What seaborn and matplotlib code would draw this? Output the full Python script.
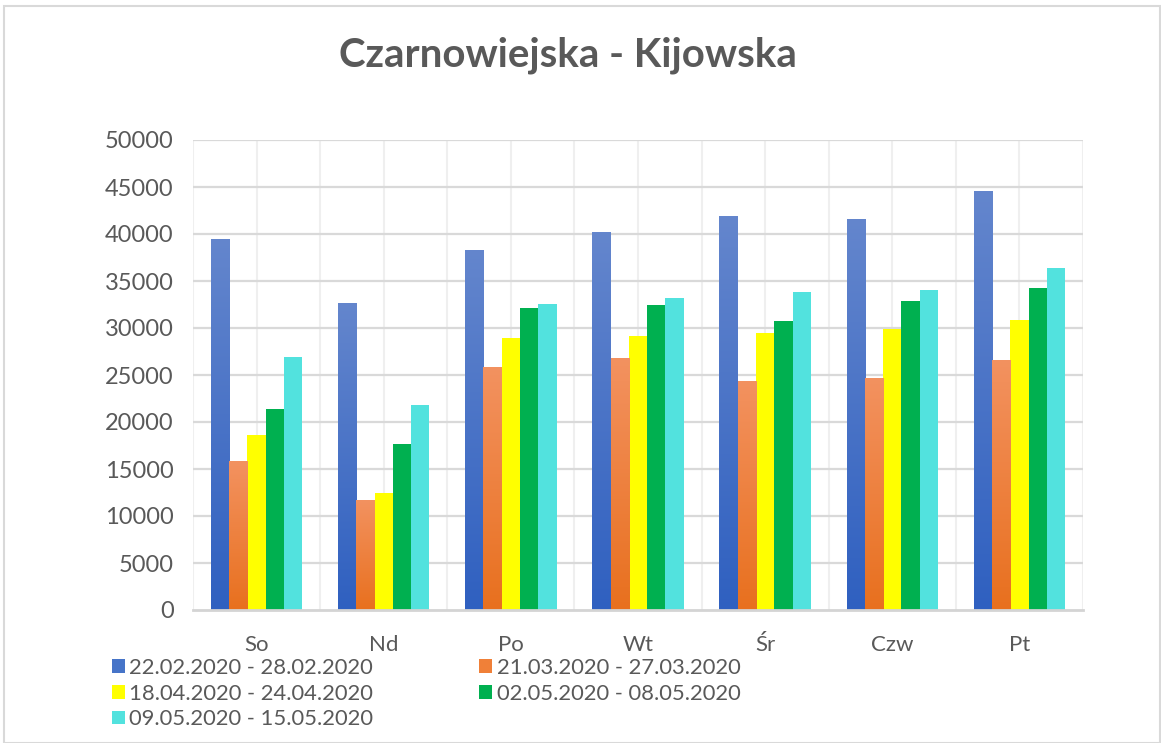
import numpy as np
import pandas as pd
import matplotlib
matplotlib.use("Agg")
import matplotlib.pyplot as plt
import seaborn as sns
from matplotlib.colors import LinearSegmentedColormap
from matplotlib.patches import Patch, Rectangle

days = ["So", "Nd", "Po", "Wt", "Śr", "Czw", "Pt"]
periods = ["22.02.2020 - 28.02.2020", "21.03.2020 - 27.03.2020",
           "18.04.2020 - 24.04.2020", "02.05.2020 - 08.05.2020",
           "09.05.2020 - 15.05.2020"]
p1 = [39500, 32700, 38300, 40200, 41900, 41600, 44600]
p2 = [15800, 11700, 25850, 26800, 24400, 24700, 26600]
p3 = [18600, 12400, 28900, 29100, 29500, 29900, 30900]
p4 = [21400, 17650, 32100, 32500, 30700, 32900, 34300]
p5 = [26900, 21800, 32550, 33200, 33800, 34000, 36400]
yticks = [0, 5000, 10000, 15000, 20000, 25000, 30000, 35000, 40000, 45000, 50000]

colors = ["#4674c8", "#f08038", "#ffff00", "#00b050", "#52e2de"]
grad = {0: ("#6486cd", "#2f60c0"), 1: ("#f39260", "#e8701e")}

series = [p1, p2, p3, p4, p5]
df = pd.DataFrame({
    "day": np.tile(days, len(periods)),
    "period": np.repeat(periods, len(days)),
    "value": np.concatenate(series),
})

sns.set_style("white")
plt.rcParams["font.family"] = ["Lato", "DejaVu Sans"]
txt = "#595959"

fig = plt.figure(figsize=(11.61, 7.43), dpi=100)
ax = fig.add_axes([193 / 1161, 133 / 743, 890 / 1161, 470 / 743])

sns.barplot(data=df, x="day", y="value", hue="period", order=days,
            hue_order=periods, palette=colors, width=0.72, saturation=1,
            ax=ax, legend=False, edgecolor="none", linewidth=0, zorder=3)

ax.set_ylim(0, 50000)
ax.set_xlim(-0.5, len(days) - 0.5)
ax.set_yticks(yticks)
ax.set_yticklabels([str(v) for v in yticks])

# gradients for blue and orange bars
for i, cont in enumerate(ax.containers):
    if i in grad:
        cmap = LinearSegmentedColormap.from_list("g", [grad[i][1], grad[i][0]])
        for bar in cont:
            x0, y0 = bar.get_x(), bar.get_y()
            w, h = bar.get_width(), bar.get_height()
            img = np.linspace(0, 1, 256).reshape(-1, 1)
            im = ax.imshow(img, extent=[x0, x0 + w, y0, y0 + h], origin="lower",
                           aspect="auto", cmap=cmap, zorder=3.5)
            im.set_clip_path(bar)

# grid
ax.set_xticks(np.arange(len(days)))
ax.set_xticks(np.arange(-0.5, len(days), 1), minor=True)
for xv in np.arange(-0.5, len(days), 0.5):
    ax.axvline(xv, color="#efefef", lw=1.5, zorder=1)
for yv in yticks[1:]:
    ax.axhline(yv, color="#d9d9d9", lw=1.6, zorder=1)
ax.set_aspect("auto")

for s in ["top", "right", "left"]:
    ax.spines[s].set_visible(False)
ax.spines["bottom"].set_color("#d4d4d4")
ax.spines["bottom"].set_linewidth(2)
ax.spines["bottom"].set_zorder(4)

ax.tick_params(axis="x", which="major", length=0, pad=18, labelsize=16, labelcolor=txt)
ax.tick_params(axis="x", which="minor", length=6, width=2, color="#d4d4d4")
ax.tick_params(axis="y", length=0, pad=14, labelsize=17, labelcolor=txt)
ax.set_xlabel("")
ax.set_ylabel("")

fig.text(568 / 1161, 1 - 55 / 743, "Czarnowiejska - Kijowska", ha="center", va="center",
         fontsize=29, fontweight="bold", color=txt)

handles = [Patch(facecolor=c, edgecolor="none") for c in colors]
order = [0, 2, 4, 1, 3]
fig.legend([handles[k] for k in order], [periods[k] for k in order],
           loc="upper left", bbox_to_anchor=(103 / 1161, 1 - 649 / 743),
           ncol=2, frameon=False, fontsize=15.85, labelcolor=txt,
           handlelength=0.6, handleheight=0.6, handletextpad=0.2,
           columnspacing=4.8, labelspacing=0.26, borderaxespad=0)

fig.patches.append(Rectangle((4 / 1161, 0), 1 - 4 / 1161 - 0.001, 1 - 6 / 743,
                             transform=fig.transFigure, fill=False,
                             edgecolor="#d9d9d9", lw=1.5))

fig.savefig("out.png", dpi=100)
